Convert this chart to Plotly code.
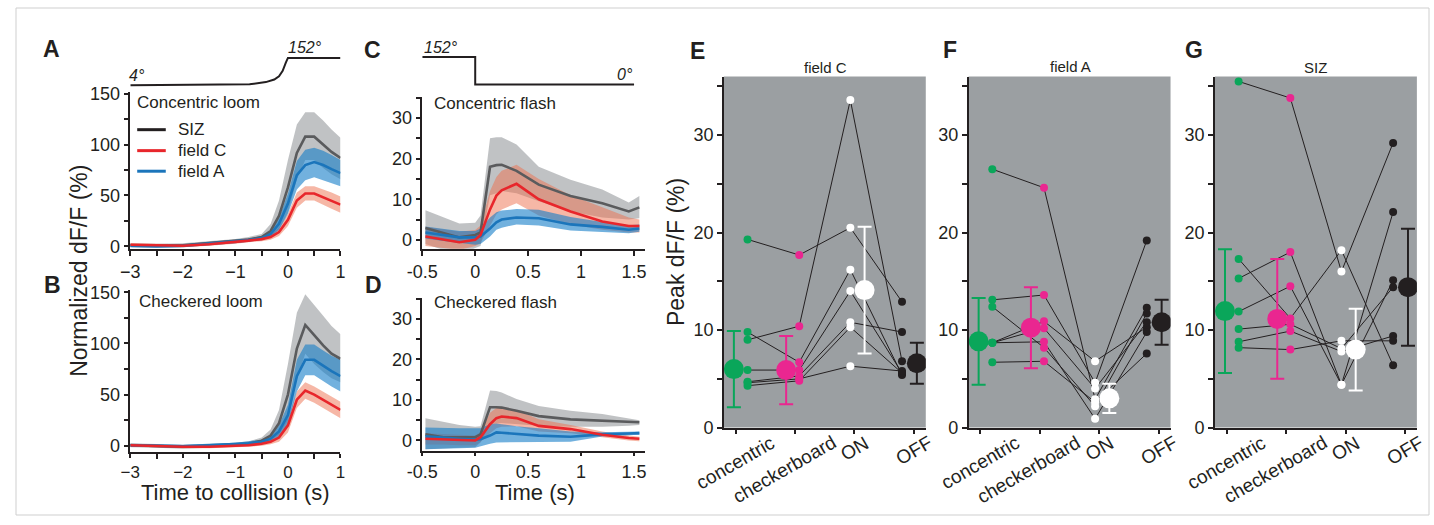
import plotly.graph_objects as go

W, H = 1434, 525
FONT = "Liberation Sans, Arial, sans-serif"
INK = "#231f20"

# ---------------- data: time courses (A-D) ----------------
t_loom = [-3, -2.5, -2, -1.5, -1, -0.75, -0.5, -0.33, -0.17, 0, 0.17, 0.33, 0.5, 0.67, 0.83, 1.0]

A_siz = [1, 0.5, 1, 3, 5, 6.5, 9, 15, 30, 58, 92, 108, 108, 100, 93, 87]
A_siz_hi = [3, 2.5, 3, 5, 7, 9, 12, 22, 45, 85, 120, 132, 132, 124, 115, 107]
A_siz_lo = [-1, -1.5, -1, 1, 3, 4.5, 6.5, 9, 17, 33, 66, 85, 85, 77, 71, 66]
A_fa = [0.5, 0, 0.5, 2.5, 4.5, 6, 8, 12, 22, 42, 70, 80, 83, 80, 76, 72]
A_fa_hi = [2, 1.5, 2, 4, 6, 7.5, 10, 15, 28, 52, 84, 95, 97, 94, 90, 85]
A_fa_lo = [-1, -1.5, -1, 1, 3, 4.5, 6, 9, 16, 32, 56, 65, 68, 65, 62, 59]
A_fc = [1.5, 1, 0.5, 2, 4, 5.5, 7, 9, 14, 26, 45, 52, 52, 48, 45, 41]
A_fc_hi = [3, 2.5, 2, 3.5, 5.5, 7, 9, 12, 18, 32, 53, 59, 59, 56, 53, 49]
A_fc_lo = [0, -0.5, -1, 0.5, 2.5, 4, 5, 6.5, 10, 20, 38, 45, 45, 41, 37, 33]

B_siz = [0.5, 0, -1, 0, 1, 2, 5, 10, 22, 50, 95, 118, 108, 98, 90, 85]
B_siz_hi = [2.5, 2, 1, 2, 3, 4.5, 8, 16, 35, 80, 130, 148, 138, 127, 117, 109]
B_siz_lo = [-1.5, -2, -3, -2, -1, 0, 2, 5, 11, 25, 65, 90, 80, 72, 66, 62]
B_fa = [0.5, 0, -0.5, 0.5, 1.5, 2.5, 4, 7, 14, 30, 68, 84, 84, 78, 73, 68]
B_fa_hi = [2, 1.5, 1, 2, 3, 4.5, 6, 10, 20, 40, 84, 99, 99, 93, 88, 84]
B_fa_lo = [-1, -1.5, -2, -1, 0, 1, 2, 4, 9, 20, 53, 69, 69, 63, 58, 53]
B_fc = [0.5, -0.5, -1, -1, 0, 0.5, 2, 4, 8, 20, 45, 54, 50, 45, 40, 35]
B_fc_hi = [2, 1, 0.5, 0.5, 1.5, 2.5, 4, 7, 12, 27, 53, 62, 58, 53, 48, 43]
B_fc_lo = [-1, -2, -2.5, -2.5, -1.5, -1, 0, 1.5, 4, 13, 37, 46, 42, 37, 32, 27]

t_flash = [-0.47, -0.3, -0.15, 0.0, 0.05, 0.14, 0.2, 0.25, 0.39, 0.6, 0.9, 1.2, 1.45, 1.55]

C_siz = [2.9, 1.6, 0.6, 1.2, 1.8, 18.0, 18.4, 18.5, 17.0, 13.6, 10.8, 9.0, 7.0, 8.0]
C_siz_hi = [7.3, 5.5, 4.0, 4.2, 6.0, 25.0, 25.3, 25.3, 23.5, 18.0, 14.8, 12.4, 9.2, 10.8]
C_siz_lo = [-1.0, -2.5, -4.0, -2.0, -1.5, 11.0, 11.5, 12.0, 11.5, 9.5, 7.0, 5.5, 5.0, 5.3]
C_fc = [0.8, 0.0, -0.6, 0.0, 1.2, 7.5, 10.9, 12.2, 13.8, 10.0, 7.0, 4.5, 3.4, 3.4]
C_fc_hi = [3.2, 2.6, 2.0, 2.4, 3.5, 12.0, 15.5, 17.0, 18.5, 15.0, 11.0, 8.0, 5.5, 5.0]
C_fc_lo = [-1.5, -2.0, -2.5, -1.5, -0.8, 3.5, 6.3, 7.5, 9.0, 6.0, 3.8, 2.5, 1.8, 1.8]
C_fa = [1.8, 1.2, 0.6, 0.6, 0.8, 2.8, 4.3, 5.0, 5.5, 5.3, 3.8, 3.2, 2.5, 2.8]
C_fa_hi = [3.3, 2.8, 2.2, 2.2, 2.8, 5.5, 6.8, 7.2, 7.6, 7.4, 5.6, 4.4, 3.6, 3.8]
C_fa_lo = [0.3, -0.3, -0.8, -1.2, -1.0, 0.8, 2.5, 3.0, 3.8, 3.5, 2.3, 2.0, 1.6, 2.0]

D_siz = [1.5, 0.8, 0.8, 0.8, 1.5, 8.2, 8.2, 8.1, 7.3, 6.0, 5.2, 4.8, 4.5, 4.5]
D_siz_hi = [5.5, 4.6, 3.8, 3.4, 3.5, 12.3, 12.2, 11.8, 10.2, 8.5, 7.3, 6.5, 5.3, 5.0]
D_siz_lo = [-2.2, -2.0, -1.8, -1.7, -0.5, 4.0, 4.2, 4.3, 4.0, 3.6, 3.4, 3.4, 3.6, 3.8]
D_fc = [0.4, 0.3, 0.1, 0.0, 0.8, 4.0, 5.5, 5.9, 5.5, 3.6, 2.8, 1.4, 0.6, 0.4]
D_fc_hi = [1.8, 1.6, 1.4, 1.2, 2.0, 6.8, 8.0, 8.3, 7.5, 5.2, 3.8, 2.2, 1.2, 0.9]
D_fc_lo = [-1.0, -1.0, -1.2, -1.2, -0.4, 1.8, 3.0, 3.4, 3.5, 2.2, 1.8, 0.8, 0.0, -0.2]
D_fa = [1.0, 0.6, 0.4, 0.2, 0.3, 1.2, 2.0, 1.9, 1.6, 1.2, 0.9, 1.5, 1.7, 1.8]
D_fa_hi = [3.2, 3.0, 3.0, 3.0, 3.0, 4.0, 4.2, 4.0, 3.5, 3.0, 2.2, 2.0, 2.1, 2.2]
D_fa_lo = [-2.2, -2.0, -1.9, -1.8, -1.5, -0.8, -0.5, -0.5, -0.4, -0.4, -0.3, 1.0, 1.3, 1.4]

# stimulus angle traces
stim_loom_t = [-3, -2, -1, -0.73, -0.42, -0.26, -0.17, -0.1, -0.04, 0, 1.0]
stim_loom_deg = [4, 5, 7, 9, 21, 35, 53, 82, 126, 152, 152]
stim_flash_t = [-0.5, 0, 0, 1.5]
stim_flash_deg = [152, 152, 0, 0]

# ---------------- data: peak responses (E-G) ----------------
categories = ["concentric", "checkerboard", "ON", "OFF"]

E_conc = [19.3, 9.0, 9.8, 5.9, 4.7, 4.3, 4.6]
E_check = [17.7, 10.4, 6.7, 5.9, 5.3, 4.8, 5.0]
E_on = [20.5, 33.6, 16.2, 14.0, 10.8, 10.3, 6.3]
E_off = [12.9, 6.8, 5.4, 5.6, 9.8, 5.6, 5.8]
E_mean = [6.0, 5.9, 14.1, 6.6]
E_err = [3.9, 3.5, 6.5, 2.1]

F_conc = [26.5, 13.1, 12.4, 8.7, 8.7, 8.7, 6.7]
F_check = [24.6, 13.6, 8.2, 10.9, 10.2, 8.8, 6.8]
F_on = [2.9, 4.6, 2.2, 6.8, 4.0, 0.9, 2.6]
F_off = [12.3, 19.2, 11.7, 10.3, 10.8, 9.8, 7.6]
F_mean = [8.85, 10.25, 3.0, 10.8]
F_err = [4.45, 4.15, 1.5, 2.3]

G_conc = [35.5, 17.3, 15.3, 11.9, 10.1, 8.8, 8.2]
G_check = [33.8, 11.2, 18.0, 14.5, 10.6, 9.9, 8.0]
G_on = [16.0, 18.2, 4.4, 4.4, 8.1, 7.8, 8.9]
G_off = [29.2, 6.4, 15.1, 22.1, 14.4, 9.4, 8.9]
G_mean = [11.95, 11.15, 8.0, 14.4]
G_err = [6.35, 6.15, 4.2, 6.0]

# ---------------- styling ----------------
GRAY_LINE, GRAY_FILL = "#5a5b5d", "rgba(140,144,147,0.55)"
RED_LINE, RED_FILL = "#e8262b", "rgba(237,111,77,0.5)"
BLUE_LINE, BLUE_FILL = "#1b75bb", "rgba(20,125,200,0.6)"
CAT_COLORS = ["#0aa65a", "#ea2690", "#ffffff", INK]
PANEL_BG = "#9b9fa2"


def fx(px):
    return px / W


def fy(py):
    return 1 - py / H


fig = go.Figure()


def band_and_line(xs, mean, hi, lo, line_c, fill_c, ax, layer):
    n = str(ax) if ax > 1 else ""
    if layer == "band":
        fig.add_trace(go.Scatter(x=list(xs) + list(xs)[::-1], y=list(hi) + list(lo)[::-1],
                                 fill="toself", fillcolor=fill_c, line=dict(width=0),
                                 mode="lines", hoverinfo="skip", showlegend=False,
                                 xaxis="x" + n, yaxis="y" + n))
    else:
        fig.add_trace(go.Scatter(x=xs, y=mean, mode="lines", line=dict(color=line_c, width=2.6),
                                 showlegend=False, xaxis="x" + n, yaxis="y" + n))


series = [
    (1, t_loom, (A_siz, A_siz_hi, A_siz_lo), (A_fc, A_fc_hi, A_fc_lo), (A_fa, A_fa_hi, A_fa_lo)),
    (2, t_loom, (B_siz, B_siz_hi, B_siz_lo), (B_fc, B_fc_hi, B_fc_lo), (B_fa, B_fa_hi, B_fa_lo)),
    (3, t_flash, (C_siz, C_siz_hi, C_siz_lo), (C_fc, C_fc_hi, C_fc_lo), (C_fa, C_fa_hi, C_fa_lo)),
    (4, t_flash, (D_siz, D_siz_hi, D_siz_lo), (D_fc, D_fc_hi, D_fc_lo), (D_fa, D_fa_hi, D_fa_lo)),
]
for ax, xs, siz, fc, fa in series:
    band_and_line(xs, *siz, GRAY_LINE, GRAY_FILL, ax, "band")
    band_and_line(xs, *fc, RED_LINE, RED_FILL, ax, "band")
    band_and_line(xs, *fa, BLUE_LINE, BLUE_FILL, ax, "band")
    band_and_line(xs, *siz, GRAY_LINE, GRAY_FILL, ax, "line")
    band_and_line(xs, *fa, BLUE_LINE, BLUE_FILL, ax, "line")
    band_and_line(xs, *fc, RED_LINE, RED_FILL, ax, "line")

# stimulus traces
fig.add_trace(go.Scatter(x=stim_loom_t, y=stim_loom_deg, mode="lines", line=dict(color=INK, width=2),
                         showlegend=False, xaxis="x8", yaxis="y8"))
fig.add_trace(go.Scatter(x=stim_flash_t, y=stim_flash_deg, mode="lines", line=dict(color=INK, width=2),
                         showlegend=False, xaxis="x9", yaxis="y9"))

# peak response panels
PT_OFF = [0.2, 0.07, -0.07, -0.2]
MEAN_OFF = [-0.03, -0.15, 0.17, 0.05]
peak_panels = [
    (5, [E_conc, E_check, E_on, E_off], E_mean, E_err),
    (6, [F_conc, F_check, F_on, F_off], F_mean, F_err),
    (7, [G_conc, G_check, G_on, G_off], G_mean, G_err),
]
for ax, conds, means, errs in peak_panels:
    xa, ya = "x%d" % ax, "y%d" % ax
    nfly = len(conds[0])
    for i in range(nfly):
        fig.add_trace(go.Scatter(x=[k + PT_OFF[k] for k in range(4)], y=[conds[k][i] for k in range(4)],
                                 mode="lines", line=dict(color=INK, width=1), showlegend=False,
                                 xaxis=xa, yaxis=ya))
    for k in range(4):
        fig.add_trace(go.Scatter(x=[k + PT_OFF[k]] * len(conds[k]), y=conds[k], mode="markers",
                                 marker=dict(color=CAT_COLORS[k], size=8, line=dict(width=0)),
                                 showlegend=False, xaxis=xa, yaxis=ya))
    for k in range(4):
        fig.add_trace(go.Scatter(x=[k + MEAN_OFF[k]], y=[means[k]], mode="markers",
                                 marker=dict(color=CAT_COLORS[k], size=20, line=dict(width=0)),
                                 error_y=dict(type="data", array=[errs[k]], color=CAT_COLORS[k],
                                              thickness=2, width=7),
                                 showlegend=False, xaxis=xa, yaxis=ya))

# ---------------- axes ----------------
tickfont = dict(family=FONT, size=18, color=INK)


def base_axis(domain, rng, **kw):
    d = dict(domain=domain, range=rng, showgrid=False, zeroline=False, showline=True,
             linecolor=INK, linewidth=1.5, ticks="outside", ticklen=5, tickwidth=1.5,
             tickcolor=INK, tickfont=tickfont, fixedrange=True)
    d.update(kw)
    return d


def minor(vals):
    return dict(tickvals=vals, ticks="outside", ticklen=5, tickwidth=1.5, tickcolor=INK)


layout_axes = {}
# A
layout_axes["xaxis"] = base_axis([fx(116), fx(329.3)], [-3, 1], anchor="y", tickvals=[-3, -2, -1, 0, 1],
                                 minor=minor([-2.5, -1.5, -0.5, 0.5]), ticklabelstandoff=1)
layout_axes["yaxis"] = base_axis([fy(249.3), fy(87)], [-2.5, 152], anchor="x", tickvals=[0, 50, 100, 150],
                                 minor=minor([25, 75, 125]))
# B
layout_axes["xaxis2"] = base_axis([fx(116), fx(329.3)], [-3, 1], anchor="y2", tickvals=[-3, -2, -1, 0, 1],
                                  minor=minor([-2.5, -1.5, -0.5, 0.5]), ticklen=4, ticklabelstandoff=0,
                                  tickfont=dict(family=FONT, size=17, color=INK))
layout_axes["yaxis2"] = base_axis([fy(460), fy(292)], [-6.3, 152.2], anchor="x2", tickvals=[0, 50, 100, 150],
                                  minor=minor([25, 75, 125]))
# C
layout_axes["xaxis3"] = base_axis([fx(412.3), fx(638)], [-0.5, 1.6], anchor="y3",
                                  tickvals=[-0.5, 0, 0.5, 1, 1.5], ticktext=["-0.5", "0", "0.5", "1", "1.5"],
                                  ticklabelstandoff=1)
layout_axes["yaxis3"] = base_axis([fy(249.3), fy(91.7)], [-2.2, 35.3], anchor="x3", tickvals=[0, 10, 20, 30],
                                  minor=minor([5, 15, 25, 35]))
# D
layout_axes["xaxis4"] = base_axis([fx(412.3), fx(638)], [-0.5, 1.6], anchor="y4",
                                  tickvals=[-0.5, 0, 0.5, 1, 1.5], ticktext=["-0.5", "0", "0.5", "1", "1.5"],
                                  ticklen=4, ticklabelstandoff=0)
layout_axes["yaxis4"] = base_axis([fy(458.3), fy(300)], [-2.5, 35.2], anchor="x4", tickvals=[0, 10, 20, 30],
                                  minor=minor([5, 15, 25, 35]))
# E, F, G
peak_x = {5: (718.3, 923.3), 6: (966.7, 1171.7), 7: (1216.7, 1421.7)}
for ax, (l, r) in peak_x.items():
    layout_axes["xaxis%d" % ax] = base_axis([fx(l), fx(r)], [-0.2, 3.2], anchor="y%d" % ax,
                                            tickvals=[0, 1, 2, 3], ticktext=["", "", "", ""])
    layout_axes["yaxis%d" % ax] = base_axis([fy(434.5), fy(71)], [0, 36], anchor="x%d" % ax,
                                            tickvals=[0, 10, 20, 30], minor=minor([5, 15, 25, 35]))
# stimulus axes
layout_axes["xaxis8"] = dict(domain=[fx(116), fx(329.3)], range=[-3, 1], visible=False, anchor="y8")
layout_axes["yaxis8"] = dict(domain=[fy(85), fy(45)], range=[-22.2, 187], visible=False, anchor="x8")
layout_axes["xaxis9"] = dict(domain=[fx(412.3), fx(638)], range=[-0.5, 1.6], visible=False, anchor="y9")
layout_axes["yaxis9"] = dict(domain=[fy(85), fy(45)], range=[-30.3, 182.3], visible=False, anchor="x9")

# ---------------- annotations ----------------
ann = []


def text(s, px, py, size, xanchor="center", yanchor="middle", angle=0, bold=False, italic=False, color=INK):
    if bold:
        s = "<b>%s</b>" % s
    if italic:
        s = "<i>%s</i>" % s
    ann.append(dict(text=s, x=fx(px), y=fy(py), xref="paper", yref="paper", showarrow=False,
                    xanchor=xanchor, yanchor=yanchor, textangle=angle,
                    font=dict(family=FONT, size=size, color=color)))


for lab, px, py in [("A", 36, 42), ("B", 36.7, 287), ("C", 361.7, 43.3), ("D", 363, 287),
                    ("E", 691.7, 45), ("F", 948, 43), ("G", 1195, 43)]:
    text(lab, px, py, 23, bold=True)

text("Concentric loom", 121, 98, 17, xanchor="left")
text("Checkered loom", 123, 303.5, 17, xanchor="left")
text("Concentric flash", 422.5, 99, 17, xanchor="left")
text("Checkered flash", 422.5, 304.5, 17, xanchor="left")

legend_items = [("SIZ", INK, 126), ("field C", RED_LINE, 147.7), ("field A", BLUE_LINE, 169)]
shapes = []
for name, col, py in legend_items:
    shapes.append(dict(type="line", xref="paper", yref="paper", x0=fx(123), x1=fx(152), y0=fy(py), y1=fy(py),
                       line=dict(color=col, width=3)))
    text(name, 162, py, 17, xanchor="left")

text("field C", 821.7, 61.5, 15)
text("field A", 1070, 61, 15)
text("SIZ", 1319, 61.5, 15)

text("4°", 123, 70, 16, italic=True)
text("152°", 293, 41, 16, italic=True)
text("152°", 431.7, 41, 16, italic=True)
text("0°", 618, 69, 16, italic=True)

text("Normalized dF/F (%)", 64, 272, 23, angle=-90)
text("Time to collision (s)", 222.5, 502, 22)
text("Time (s)", 526.7, 502, 22)
text("Peak dF/F (%)", 670, 252.5, 23, angle=-90)

# category labels under E-G (rotated)
for ax in (5, 6, 7):
    for k, cat in enumerate(categories):
        ann.append(dict(text=cat, x=k, y=fy(436), xref="x%d" % ax, yref="paper", showarrow=False,
                        xanchor="center", yanchor="top", textangle=-30,
                        xshift=-11 if cat == "checkerboard" else 0,
                        font=dict(family=FONT, size=19, color=INK)))

# gray backgrounds for E-G
for ax in (5, 6, 7):
    shapes.append(dict(type="rect", xref="x%d domain" % ax, yref="y%d domain" % ax, x0=0, x1=1, y0=0, y1=1,
                       fillcolor=PANEL_BG, line=dict(width=0), layer="below"))

# thin frame around the figure
shapes.append(dict(type="rect", xref="paper", yref="paper", x0=0, x1=1, y0=0, y1=1,
                   line=dict(color="#cfcfcf", width=1)))

fig.update_layout(width=W, height=H, margin=dict(l=0, r=0, t=0, b=0), autosize=False,
                  paper_bgcolor="white", plot_bgcolor="white", showlegend=False,
                  annotations=ann, shapes=shapes, font=dict(family=FONT, color=INK),
                  **layout_axes)

fig.write_html("out.html", config=dict(responsive=False, displayModeBar=False),
               post_script="document.body.style.margin='0';document.body.style.padding='0';"
                           "document.body.style.overflow='hidden';")
